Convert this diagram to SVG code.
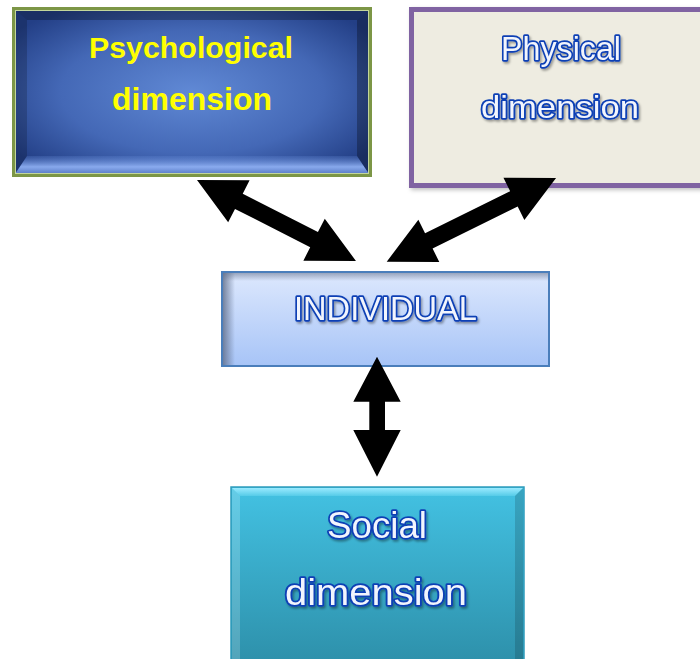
<svg xmlns="http://www.w3.org/2000/svg" width="700" height="659" viewBox="0 0 700 659">
  <defs>
    <radialGradient id="psyFace" cx="0.5" cy="0.5" r="0.62">
      <stop offset="0" stop-color="#6089d5"/>
      <stop offset="0.6" stop-color="#4468b6"/>
      <stop offset="1" stop-color="#233f86"/>
    </radialGradient>
    <linearGradient id="psyBottom" x1="0" y1="0" x2="0" y2="1">
      <stop offset="0" stop-color="#6a90dc" stop-opacity="0.2"/>
      <stop offset="0.6" stop-color="#93b4f7" stop-opacity="0.9"/>
      <stop offset="1" stop-color="#5d80cc" stop-opacity="0.9"/>
    </linearGradient>
    <linearGradient id="indFill" x1="0" y1="0" x2="0" y2="1">
      <stop offset="0" stop-color="#dde8fd"/>
      <stop offset="1" stop-color="#a7c4f7"/>
    </linearGradient>
    <linearGradient id="indLeft" x1="0" y1="0" x2="1" y2="0">
      <stop offset="0" stop-color="#5c6a86" stop-opacity="0.85"/>
      <stop offset="1" stop-color="#5c6a86" stop-opacity="0"/>
    </linearGradient>
    <linearGradient id="indTop" x1="0" y1="0" x2="0" y2="1">
      <stop offset="0" stop-color="#5c6a86" stop-opacity="0.6"/>
      <stop offset="1" stop-color="#5c6a86" stop-opacity="0"/>
    </linearGradient>
    <linearGradient id="socFill" x1="0" y1="0" x2="0" y2="1">
      <stop offset="0" stop-color="#43c2e3"/>
      <stop offset="1" stop-color="#2d8fa9"/>
    </linearGradient>
    <linearGradient id="socTop" x1="0" y1="0" x2="0" y2="1">
      <stop offset="0" stop-color="#9aeaff"/>
      <stop offset="1" stop-color="#55cbe8"/>
    </linearGradient>
    <filter id="txtShadow" x="-10%" y="-20%" width="120%" height="150%">
      <feDropShadow dx="1.5" dy="2" stdDeviation="1.2" flood-color="#000" flood-opacity="0.35"/>
    </filter>
    <filter id="boxShadow" x="-5%" y="-5%" width="115%" height="120%">
      <feDropShadow dx="2" dy="2" stdDeviation="2" flood-color="#000" flood-opacity="0.25"/>
    </filter>
  </defs>
  <style>
    .outline { font-family: "Liberation Sans", Arial, sans-serif; fill: #f2f5fd; stroke: #0b3fb5; stroke-width: 3.4; stroke-linejoin: round; paint-order: stroke; text-anchor: middle; filter: url(#txtShadow); }
    .yellow { font-family: "Liberation Sans", Arial, sans-serif; font-weight: bold; fill: #ffff00; text-anchor: middle; }
    .arrow { fill: #000000; }
  </style>

  <g id="psychological">
    <rect x="13.5" y="8.5" width="357" height="167" fill="#233f86" stroke="#7c9646" stroke-width="3"/>
    <rect x="15" y="10" width="354" height="164" fill="url(#psyFace)"/>
    <polygon points="15,10 369,10 357,20 27,20" fill="#000" opacity="0.25"/>
    <polygon points="15,10 27,20 27,156 15,174" fill="#000" opacity="0.18"/>
    <polygon points="369,10 357,20 357,156 369,174" fill="#000" opacity="0.28"/>
    <polygon points="15,174 27,156 357,156 369,174" fill="url(#psyBottom)"/>
    <rect x="15.5" y="10.5" width="353" height="163" fill="none" stroke="#c3d69b" stroke-width="1"/>
    <text class="yellow" x="191" y="58" font-size="30" textLength="204" lengthAdjust="spacingAndGlyphs">Psychological</text>
    <text class="yellow" x="192" y="110" font-size="31" textLength="160" lengthAdjust="spacingAndGlyphs">dimension</text>
  </g>

  <g id="physical">
    <rect x="411.5" y="9.5" width="300" height="176" fill="#eeece1" stroke="#8064a2" stroke-width="5" filter="url(#boxShadow)"/>
    <text class="outline" x="561" y="60" font-size="33" textLength="120" lengthAdjust="spacingAndGlyphs">Physical</text>
    <text class="outline" x="560" y="118" font-size="32" textLength="158" lengthAdjust="spacingAndGlyphs">dimension</text>
  </g>

  <g id="individual">
    <rect x="222" y="272" width="327" height="94" fill="url(#indFill)"/>
    <rect x="222" y="272" width="13" height="94" fill="url(#indLeft)"/>
    <rect x="222" y="272" width="327" height="9" fill="url(#indTop)"/>
    <rect x="222" y="272" width="327" height="94" fill="none" stroke="#4a7ebb" stroke-width="2"/>
    <text class="outline" x="385.5" y="320" font-size="33" textLength="183" lengthAdjust="spacingAndGlyphs">INDIVIDUAL</text>
  </g>

  <g id="social">
    <rect x="231" y="487" width="293" height="180" fill="url(#socFill)" stroke="#2f9cbc" stroke-width="1.5"/>
    <polygon points="232,488 523,488 515,496 240,496" fill="url(#socTop)"/>
    <polygon points="232,488 240,496 240,660 232,660" fill="#ffffff" opacity="0.18"/>
    <polygon points="523,488 515,496 515,660 523,660" fill="#000000" opacity="0.15"/>
    <text class="outline" x="377" y="538" font-size="36" textLength="100" lengthAdjust="spacingAndGlyphs">Social</text>
    <text class="outline" x="376" y="605" font-size="36" textLength="182" lengthAdjust="spacingAndGlyphs">dimension</text>
  </g>

  <g id="connectors">
    <polygon class="arrow" transform="translate(197,180) rotate(27)" points="0,0 47,-23.6 47,-8.5 131.4,-8.5 131.4,-23.6 178.4,0 131.4,23.6 131.4,8.5 47,8.5 47,23.6"/>
    <polygon class="arrow" transform="translate(386.7,261.7) rotate(-26.3)" points="0,0 47,-23.6 47,-8.5 141.9,-8.5 141.9,-23.6 188.9,0 141.9,23.6 141.9,8.5 47,8.5 47,23.6"/>
    <polygon class="arrow" points="377,356.7 400.7,401.7 385,401.7 385,430 400.7,430 377,476.7 353.3,430 369.3,430 369.3,401.7 353.3,401.7"/>
  </g>
</svg>
